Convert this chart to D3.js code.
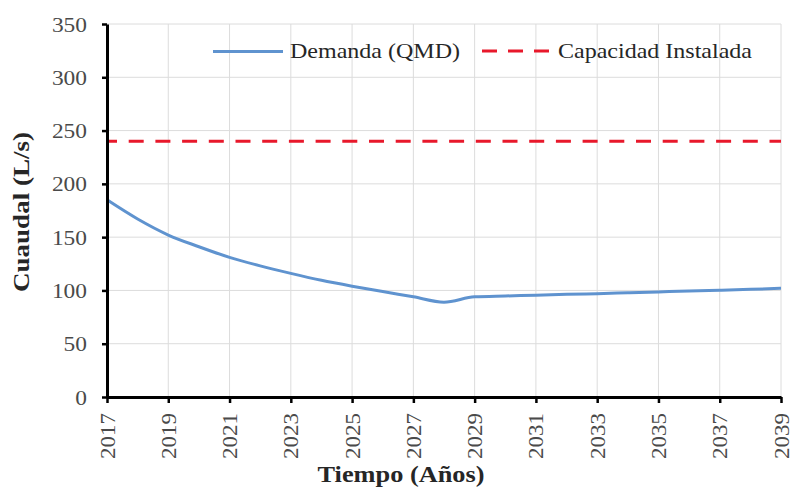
<!DOCTYPE html>
<html lang="es">
<head>
<meta charset="UTF-8">
<title>Cuaudal</title>
<style>
  body { margin: 0; background: #fff; }
  text { font-family: "Liberation Serif", "Times New Roman", serif; }
</style>
</head>
<body>
<div id="chart"></div>
<script src="https://d3js.org/d3.v7.min.js"></script>
<script>
// data
const years = [2017, 2018, 2019, 2020, 2021, 2022, 2023, 2024, 2025, 2026, 2027, 2028,
               2029, 2030, 2031, 2032, 2033, 2034, 2035, 2036, 2037, 2038, 2039];
const demanda = [185, 167, 152, 141, 131, 123, 116, 109.5, 104, 99, 94, 89,
                 94, 94.8, 95.5, 96.3, 97, 97.8, 98.6, 99.4, 100.2, 101, 102];
const capacidad = 240;
const yTicks = [0, 50, 100, 150, 200, 250, 300, 350];
const xTicks = [2017, 2019, 2021, 2023, 2025, 2027, 2029, 2031, 2033, 2035, 2037, 2039];
const seriesNames = ["Demanda (QMD)", "Capacidad Instalada"];

const W = 792, H = 488;
const blue = "#5f93cf", red = "#e8182b";

const svg = d3.select("#chart").append("svg")
    .attr("width", W).attr("height", H);

const x = d3.scaleLinear().domain([2017, 2039]).range([107, 781]);
const y = d3.scaleLinear().domain([0, 350]).range([397, 24]);

// grid
svg.append("g").selectAll("line")
  .data(yTicks.slice(1))
  .join("line")
    .attr("x1", x(2017)).attr("x2", x(2039))
    .attr("y1", d => y(d)).attr("y2", d => y(d))
    .attr("stroke", "#dcdcdc").attr("stroke-width", 1);
svg.append("g").selectAll("line")
  .data(xTicks.slice(1))
  .join("line")
    .attr("x1", d => x(d)).attr("x2", d => x(d))
    .attr("y1", y(0)).attr("y2", y(350))
    .attr("stroke", "#dcdcdc").attr("stroke-width", 1);

// capacity line
svg.append("line")
    .attr("x1", x(2017)).attr("x2", x(2039))
    .attr("y1", y(capacidad)).attr("y2", y(capacidad))
    .attr("stroke", red).attr("stroke-width", 3)
    .attr("stroke-dasharray", "15,11.7").attr("stroke-dashoffset", 5);

// demand line
const line = d3.line()
    .x((d, i) => x(years[i]))
    .y(d => y(d))
    .curve(d3.curveMonotoneX);
svg.append("path")
    .datum(demanda)
    .attr("fill", "none")
    .attr("stroke", blue)
    .attr("stroke-width", 3)
    .attr("d", line);

// axes
const yAxis = svg.append("g")
    .attr("transform", `translate(${x(2017)},0)`)
    .call(d3.axisLeft(y).tickValues(yTicks).tickSize(5).tickSizeOuter(0).tickFormat(d3.format("d")));
const xAxis = svg.append("g")
    .attr("transform", `translate(0,${y(0)})`)
    .call(d3.axisBottom(x).tickValues(xTicks).tickSize(6).tickSizeOuter(0).tickFormat(d3.format("d")));

[yAxis, xAxis].forEach(g => {
  g.select(".domain").attr("stroke", "#000").attr("stroke-width", 3);
  g.selectAll(".tick line").attr("stroke", "#000").attr("stroke-width", 2.5);
});

yAxis.selectAll(".tick text")
    .attr("x", -20)
    .attr("dy", "0.35em")
    .style("font-size", "20px")
    .attr("fill", "#4a4a4a")
    .attr("textLength", d => String(d).length * 11.7)
    .attr("lengthAdjust", "spacingAndGlyphs");

xAxis.selectAll(".tick text")
    .attr("transform", "translate(0,16) rotate(-90)")
    .attr("x", 0).attr("y", 0)
    .attr("dy", "0.35em")
    .style("text-anchor", "end")
    .style("font-size", "20px")
    .attr("fill", "#4a4a4a")
    .attr("textLength", 46)
    .attr("lengthAdjust", "spacingAndGlyphs");

// axis titles
svg.append("text")
    .attr("transform", "translate(29,212) rotate(-90)")
    .attr("text-anchor", "middle")
    .style("font-size", "23px").style("font-weight", "bold")
    .attr("fill", "#262626")
    .attr("textLength", 160).attr("lengthAdjust", "spacingAndGlyphs")
    .text("Cuaudal (L/s)");

svg.append("text")
    .attr("x", 401).attr("y", 482)
    .attr("text-anchor", "middle")
    .style("font-size", "24px").style("font-weight", "bold")
    .attr("fill", "#262626")
    .attr("textLength", 167).attr("lengthAdjust", "spacingAndGlyphs")
    .text("Tiempo (Años)");

// legend
const legend = svg.append("g");
legend.append("line")
    .attr("x1", 213).attr("x2", 283).attr("y1", 51.5).attr("y2", 51.5)
    .attr("stroke", blue).attr("stroke-width", 3);
legend.append("text")
    .attr("x", 290).attr("y", 58)
    .style("font-size", "21px").attr("fill", "#262626")
    .attr("textLength", 170).attr("lengthAdjust", "spacingAndGlyphs")
    .text(seriesNames[0]);
legend.append("line")
    .attr("x1", 482).attr("x2", 552).attr("y1", 51).attr("y2", 51)
    .attr("stroke", red).attr("stroke-width", 3)
    .attr("stroke-dasharray", "15,11");
legend.append("text")
    .attr("x", 558).attr("y", 58)
    .style("font-size", "21px").attr("fill", "#262626")
    .attr("textLength", 194).attr("lengthAdjust", "spacingAndGlyphs")
    .text(seriesNames[1]);
</script>
</body>
</html>
